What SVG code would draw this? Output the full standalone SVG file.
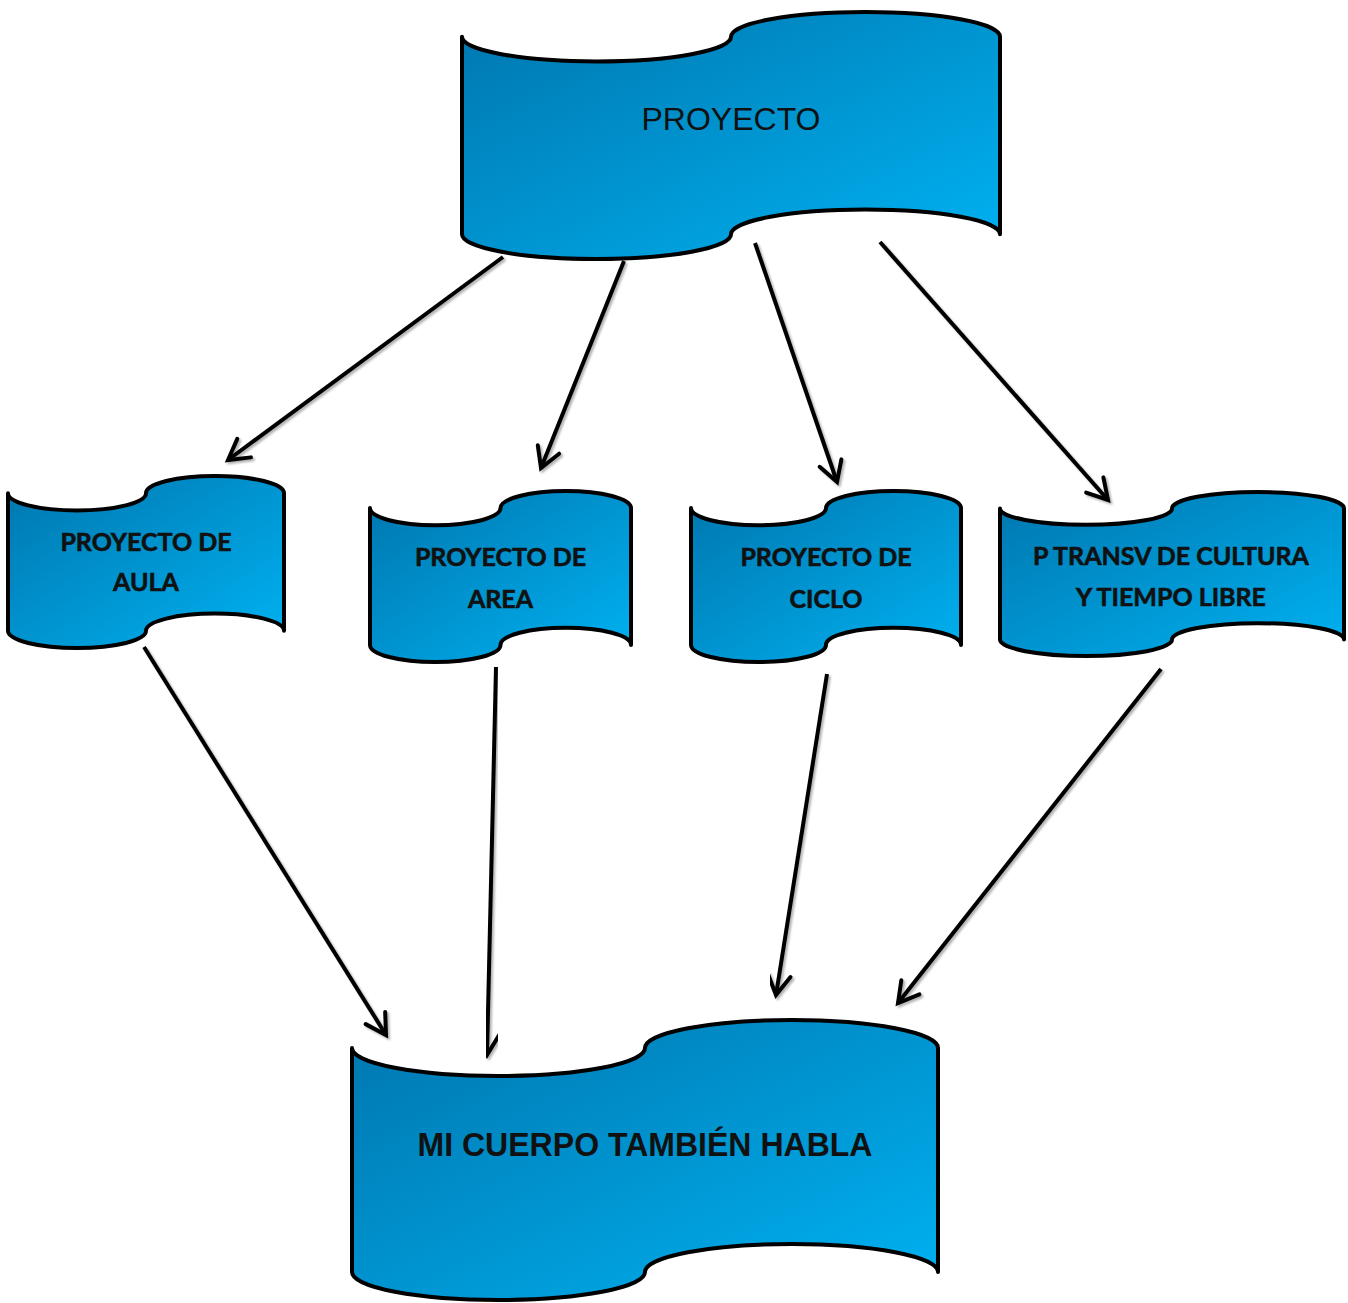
<svg xmlns="http://www.w3.org/2000/svg" width="1348" height="1303" viewBox="0 0 1348 1303">
<defs>
<linearGradient id="g" x1="0" y1="0" x2="1" y2="1">
<stop offset="0" stop-color="#0076AE"/>
<stop offset="1" stop-color="#00B2F2"/>
</linearGradient>
<filter id="sh" x="-10%" y="-10%" width="130%" height="130%">
<feDropShadow dx="2" dy="2" stdDeviation="1" flood-color="#000" flood-opacity="0.3"/>
</filter>
<marker id="ah" markerUnits="userSpaceOnUse" markerWidth="30" markerHeight="30" viewBox="0 0 30 30" refX="25" refY="15" orient="auto">
<path d="M5,3.5 L25,15 L5,26.5" fill="none" stroke="#000" stroke-width="4" stroke-linecap="round" stroke-linejoin="miter"/>
</marker>
</defs>
<style>
.shape{fill:url(#g);stroke:#000;stroke-width:4;stroke-linejoin:round}
.lbl{font-family:Lato,"Open Sans",sans-serif;font-weight:bold;font-size:25px;fill:#111;stroke:#111;stroke-width:0.6;text-anchor:middle}
.con{stroke:#000;stroke-width:4;fill:none;marker-end:url(#ah);filter:url(#sh)}
</style>
<g id="connectors">
<line class="con" x1="503" y1="257" x2="228" y2="460"/>
<line class="con" x1="624" y1="261" x2="541" y2="468"/>
<line class="con" x1="755" y1="243" x2="837" y2="482"/>
<line class="con" x1="880" y1="242" x2="1108" y2="500"/>
<line class="con" x1="144" y1="647" x2="386" y2="1035"/>
<line class="con" x1="496" y1="667" x2="487" y2="1055"/>
<line class="con" x1="827" y1="674" x2="776" y2="995"/>
<line class="con" x1="1161" y1="669" x2="898" y2="1003"/>
</g>
<g id="node-proyecto">
<path class="shape" d="M462,36.7 A134.5,24.7 0 0 0 731,36.7 A134.5,24.7 0 0 1 1000,36.7 L1000,234.3 A134.5,24.7 0 0 0 731,234.3 A134.5,24.7 0 0 1 462,234.3 Z"/>
<text x="731" y="130" font-family="Liberation Sans, Arial, sans-serif" font-size="32" fill="#111" text-anchor="middle">PROYECTO</text>
</g>
<g id="node-aula">
<path class="shape" d="M8,493.2 A69,17.2 0 0 0 146,493.2 A69,17.2 0 0 1 284,493.2 L284,630.8 A69,17.2 0 0 0 146,630.8 A69,17.2 0 0 1 8,630.8 Z"/>
<text class="lbl" x="146" y="551">PROYECTO DE</text>
<text class="lbl" x="146" y="591">AULA</text>
</g>
<g id="node-area">
<path class="shape" d="M370,508.1 A65.25,17.1 0 0 0 500.5,508.1 A65.25,17.1 0 0 1 631,508.1 L631,644.9 A65.25,17.1 0 0 0 500.5,644.9 A65.25,17.1 0 0 1 370,644.9 Z"/>
<text class="lbl" x="500.5" y="566">PROYECTO DE</text>
<text class="lbl" x="500.5" y="608">AREA</text>
</g>
<g id="node-ciclo">
<path class="shape" d="M691,508.1 A67.5,17.1 0 0 0 826,508.1 A67.5,17.1 0 0 1 961,508.1 L961,644.9 A67.5,17.1 0 0 0 826,644.9 A67.5,17.1 0 0 1 691,644.9 Z"/>
<text class="lbl" x="826" y="566">PROYECTO DE</text>
<text class="lbl" x="826" y="608">CICLO</text>
</g>
<g id="node-transv">
<path class="shape" d="M1000,508.4 A86,16.4 0 0 0 1172,508.4 A86,16.4 0 0 1 1344,508.4 L1344,639.6 A86,16.4 0 0 0 1172,639.6 A86,16.4 0 0 1 1000,639.6 Z"/>
<text class="lbl" x="1171" y="565">P TRANSV DE CULTURA</text>
<text class="lbl" x="1171" y="606">Y TIEMPO LIBRE</text>
</g>
<g id="node-cuerpo">
<path class="shape" d="M352,1048 A146.5,28 0 0 0 645,1048 A146.5,28 0 0 1 938,1048 L938,1272 A146.5,28 0 0 0 645,1272 A146.5,28 0 0 1 352,1272 Z"/>
<text x="645" y="1156" font-family="Liberation Sans, Arial, sans-serif" font-weight="bold" font-size="34" fill="#111" text-anchor="middle" textLength="455" lengthAdjust="spacingAndGlyphs">MI CUERPO TAMBIÉN HABLA</text>
</g>
</svg>
